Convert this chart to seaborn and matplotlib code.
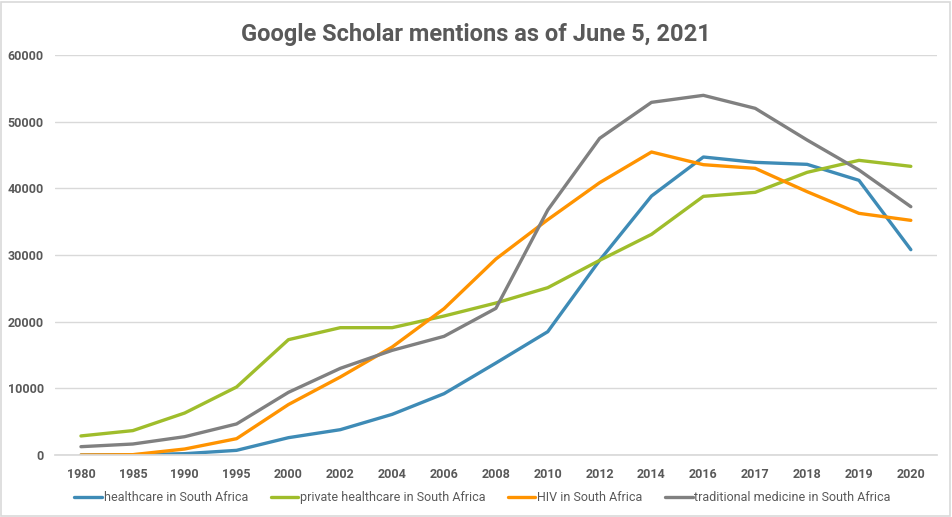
import matplotlib
matplotlib.use("Agg")
import matplotlib.pyplot as plt
import seaborn as sns
import pandas as pd

years = ["1980", "1985", "1990", "1995", "2000", "2002", "2004", "2006", "2008",
         "2010", "2012", "2014", "2016", "2017", "2018", "2019", "2020"]

healthcare = [0, 50, 200, 700, 2600, 3800, 6100, 9200, 13800, 18500, 29200, 38850,
              44700, 43900, 43600, 41200, 30800]
private_healthcare = [2860, 3660, 6300, 10200, 17300, 19100, 19100, 20850, 22800, 25100,
                      29200, 33100, 38800, 39400, 42400, 44200, 43300]
hiv = [0, 50, 900, 2450, 7570, 11700, 16200, 21950, 29400, 35300, 40850, 45450,
       43550, 43000, 39500, 36250, 35200]
traditional = [1250, 1650, 2750, 4660, 9400, 13000, 15700, 17800, 22000, 36750, 47500,
               52900, 53950, 52000, 47250, 42750, 37250]

series_names = ["healthcare in South Africa", "private healthcare in South Africa",
                "HIV in South Africa", "traditional medicine in South Africa"]
colors = ["#3E8BB6", "#9FBD2B", "#FF9300", "#808080"]

rows = []
for name, vals in zip(series_names, [healthcare, private_healthcare, hiv, traditional]):
    for i, v in enumerate(vals):
        rows.append({"pos": i, "year": years[i], "value": v, "series": name})
df = pd.DataFrame(rows)

sns.set_theme(style="white")
plt.rcParams["font.family"] = ["Roboto", "DejaVu Sans"]

fig = plt.figure(figsize=(9.52, 5.17), dpi=100)
ax = fig.add_axes([0.0578, 0.1199, 0.984 - 0.0578, 0.8936 - 0.1199])

sns.lineplot(data=df, x="pos", y="value", hue="series", palette=colors,
             hue_order=series_names, linewidth=2.4, ax=ax, legend=True)

ax.set_xlim(-0.5, len(years) - 0.5)
ax.set_ylim(0, 60000)
ax.set_xticks(range(len(years)))
ax.set_xticklabels(years)
ax.set_yticks(range(0, 60001, 10000))
ax.set_yticklabels([str(v) for v in range(0, 60001, 10000)])
ax.yaxis.grid(True, color="#D9D9D9", linewidth=1)
ax.set_axisbelow(True)
for s in ["top", "right", "left"]:
    ax.spines[s].set_visible(False)
ax.spines["bottom"].set_color("#D9D9D9")
ax.tick_params(axis="both", length=0, labelsize=9, labelcolor="#595959")
for lab in ax.get_xticklabels() + ax.get_yticklabels():
    lab.set_fontweight("bold")
ax.tick_params(axis="x", pad=9)
ax.tick_params(axis="y", pad=8)
ax.set_xlabel("")
ax.set_ylabel("")

fig.suptitle("Google Scholar mentions as of June 5, 2021", y=0.955, fontsize=17,
             fontweight="bold", color="#595959")

handles, labels = ax.get_legend_handles_labels()
ax.legend(handles, labels, loc="upper center", bbox_to_anchor=(0.485, -0.063), ncol=4,
          frameon=False, fontsize=9, handlelength=2.2, handletextpad=0.15,
          columnspacing=1.8, labelcolor="#595959")

fig.patches.append(plt.Rectangle((0.001, 0.002), 0.997, 0.995, transform=fig.transFigure,
                                 fill=False, edgecolor="#D9D9D9", linewidth=1.2))

fig.savefig("out.png", dpi=100, facecolor="white")
